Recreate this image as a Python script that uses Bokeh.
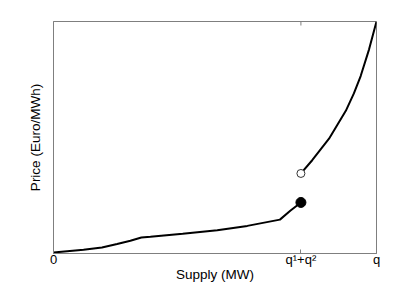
import math
from bokeh.plotting import figure
from bokeh.models import FixedTicker, LinearAxis, Range1d
from bokeh.embed import file_html
from bokeh.resources import INLINE

# data (q normalised to 1)
q12 = 0.766
lower_x = [0.0, 0.093, 0.15, 0.197, 0.238, 0.272, 0.30, 0.40, 0.507, 0.60, 0.701, 0.733, 0.766]
lower_y = [0.004, 0.016, 0.026, 0.041, 0.055, 0.069, 0.072, 0.085, 0.100, 0.119, 0.146, 0.184, 0.220]
upper_x = [0.766, 0.801, 0.853, 0.879, 0.905, 0.930, 0.951, 0.977, 1.0]
upper_y = [0.345, 0.402, 0.495, 0.555, 0.615, 0.690, 0.765, 0.880, 1.0]
tick_pos = [0.0, q12, 1.0]
tick_labels = ["0", "q\u00b9+q\u00b2", "q"]

FONT = "Liberation Sans"
GRAY = "#7f7f7f"

p = figure(width=415, height=288, output_backend="svg", toolbar_location=None,
           x_range=Range1d(0, 1), y_range=Range1d(0, 1),
           min_border_left=53, min_border_right=39, min_border_top=21, min_border_bottom=35,
           x_axis_location=None, y_axis_location=None)
p.grid.visible = False
p.outline_line_color = GRAY
p.outline_line_width = 1
p.background_fill_color = "white"
p.border_fill_color = "white"

xa = LinearAxis(ticker=FixedTicker(ticks=tick_pos),
                major_label_overrides={t: l for t, l in zip(tick_pos, tick_labels)},
                axis_label="Supply (MW)")
xa.axis_line_color = GRAY
xa.major_tick_line_color = GRAY
xa.major_tick_in = 4
xa.major_tick_out = 0
xa.minor_tick_line_color = None
xa.major_label_standoff = -2
xa.major_label_text_font = FONT
xa.major_label_text_font_size = "13px"
xa.major_label_text_color = "black"
xa.axis_label_standoff = -3
xa.axis_label_text_font = FONT
xa.axis_label_text_font_size = "13.5px"
xa.axis_label_text_font_style = "normal"
xa.axis_label_text_color = "black"
p.add_layout(xa, "below")

ya = LinearAxis(ticker=FixedTicker(ticks=[]), axis_label="Price (Euro/MWh)")
ya.axis_line_color = GRAY
ya.minor_tick_line_color = None
ya.major_tick_line_color = None
ya.axis_label_standoff = 11
ya.axis_label_text_font = FONT
ya.axis_label_text_font_size = "13.5px"
ya.axis_label_text_font_style = "normal"
ya.axis_label_text_color = "black"
p.add_layout(ya, "left")

# mirrored ticks on the top edge
p.ray(x=tick_pos, y=[1.0] * len(tick_pos), length=4, length_units="screen",
      angle=-math.pi / 2, line_color=GRAY, line_width=1)

p.line(lower_x, lower_y, line_color="black", line_width=2)
p.line(upper_x, upper_y, line_color="black", line_width=2)
p.scatter([lower_x[-1]], [lower_y[-1]], size=10, fill_color="black", line_color="black")
p.scatter([upper_x[0]], [upper_y[0]], size=8, fill_color="white", line_color="#333333", line_width=1)

open("out.html", "w").write(file_html(p, INLINE))
